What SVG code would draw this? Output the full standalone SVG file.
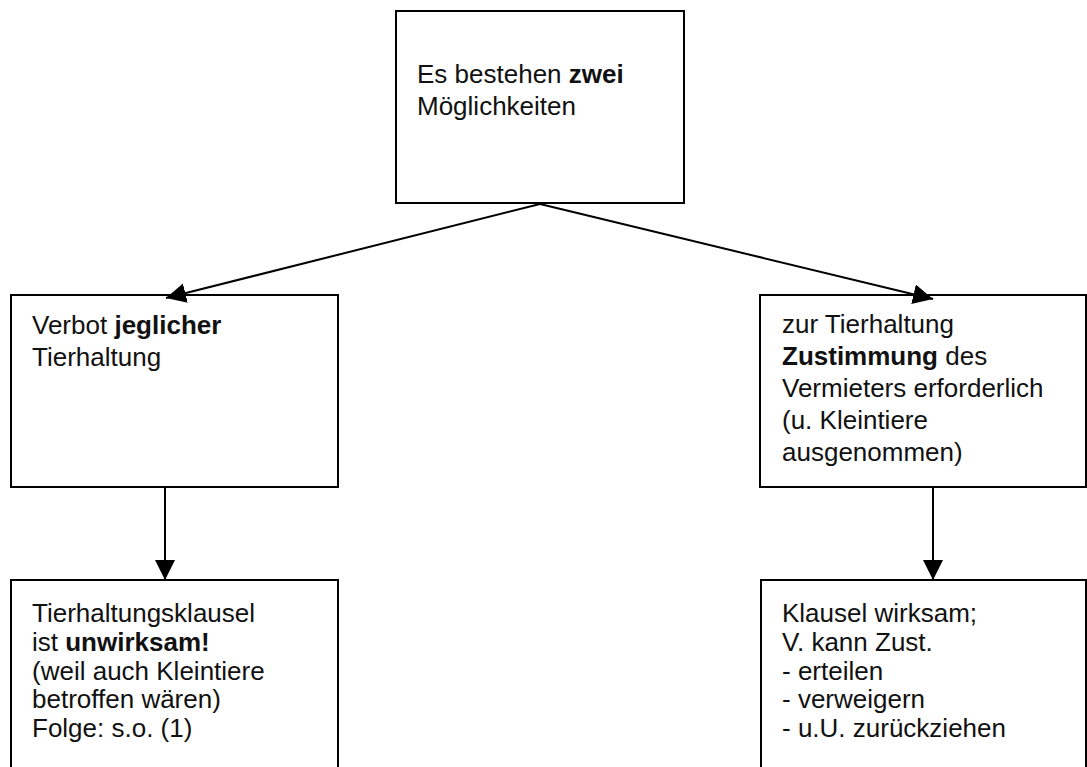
<svg xmlns="http://www.w3.org/2000/svg" width="1087" height="767" viewBox="0 0 1087 767">
  <style>
    .box { fill: #ffffff; stroke: #000000; stroke-width: 2; }
    .t { font-family: "Liberation Sans", Arial, sans-serif; font-size: 26px; fill: #111111; }
    .b { font-weight: bold; }
    .edge { stroke: #000000; stroke-width: 2; fill: none; }
  </style>
  <defs>
    <marker id="arr" markerUnits="userSpaceOnUse" markerWidth="22" markerHeight="22" refX="20" refY="10" orient="auto">
      <path d="M0,0 L20,10 L0,20 Z" fill="#000000"/>
    </marker>
  </defs>
  <rect width="1087" height="767" fill="#ffffff"/>

  <g id="node-top">
    <rect class="box" x="396" y="11" width="288" height="192"/>
    <text class="t" x="417" y="83">Es bestehen <tspan class="b">zwei</tspan></text>
    <text class="t" x="417" y="115">Möglichkeiten</text>
  </g>

  <g id="node-left">
    <rect class="box" x="11" y="295" width="327" height="192"/>
    <text class="t" x="32" y="334">Verbot <tspan class="b">jeglicher</tspan></text>
    <text class="t" x="32" y="366">Tierhaltung</text>
  </g>

  <g id="node-right">
    <rect class="box" x="760" y="295" width="326" height="192"/>
    <text class="t" x="782" y="333">zur Tierhaltung</text>
    <text class="t" x="782" y="365"><tspan class="b">Zustimmung</tspan> des</text>
    <text class="t" x="782" y="397">Vermieters erforderlich</text>
    <text class="t" x="782" y="429">(u. Kleintiere</text>
    <text class="t" x="782" y="461">ausgenommen)</text>
  </g>

  <g id="node-bottom-left">
    <rect class="box" x="11" y="580" width="327" height="200"/>
    <text class="t" x="32" y="622">Tierhaltungsklausel</text>
    <text class="t" x="32" y="651">ist <tspan class="b">unwirksam!</tspan></text>
    <text class="t" x="32" y="680">(weil auch Kleintiere</text>
    <text class="t" x="32" y="708">betroffen wären)</text>
    <text class="t" x="32" y="737">Folge: s.o. (1)</text>
  </g>

  <g id="node-bottom-right">
    <rect class="box" x="761" y="580" width="325" height="200"/>
    <text class="t" x="782" y="622">Klausel wirksam;</text>
    <text class="t" x="782" y="651">V. kann Zust.</text>
    <text class="t" x="782" y="680">- erteilen</text>
    <text class="t" x="782" y="708">- verweigern</text>
    <text class="t" x="782" y="737">- u.U. zurückziehen</text>
  </g>

  <g id="connectors">
    <line class="edge" x1="540" y1="204" x2="166" y2="298" marker-end="url(#arr)"/>
    <line class="edge" x1="540" y1="204" x2="933" y2="299" marker-end="url(#arr)"/>
    <line class="edge" x1="165" y1="487" x2="165" y2="580" marker-end="url(#arr)"/>
    <line class="edge" x1="933" y1="487" x2="933" y2="580" marker-end="url(#arr)"/>
  </g>
</svg>
